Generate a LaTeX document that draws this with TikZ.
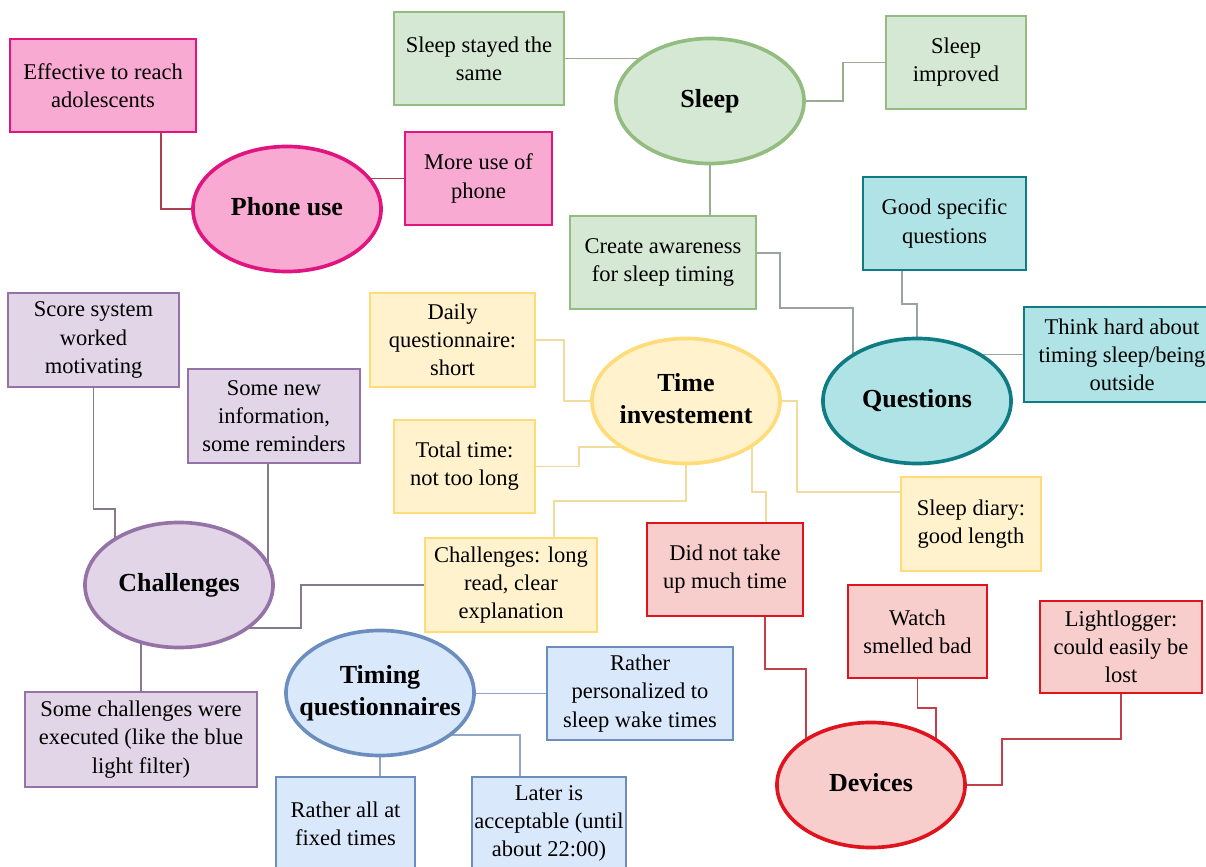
\documentclass[tikz,border=0pt]{standalone}
\usepackage{fontspec}
\setmainfont{Liberation Serif}
\usetikzlibrary{shapes.geometric,backgrounds,calc}

\definecolor{pkfill}{HTML}{F9AAD3}
\definecolor{pkedge}{HTML}{E0157F}
\definecolor{pkwire}{HTML}{A8404F}
\definecolor{grfill}{HTML}{D5E8D4}
\definecolor{gredge}{HTML}{93BC80}
\definecolor{grwire}{HTML}{98AC90}
\definecolor{tqfill}{HTML}{B0E3E6}
\definecolor{tqedge}{HTML}{0F7C84}
\definecolor{tqwire}{HTML}{9AA2A2}
\definecolor{ylfill}{HTML}{FFF2CC}
\definecolor{yledge}{HTML}{FFDC78}
\definecolor{ylwire}{HTML}{F0DC9C}
\definecolor{ppfill}{HTML}{E1D5E7}
\definecolor{ppedge}{HTML}{9673A6}
\definecolor{ppwire}{HTML}{85798E}
\definecolor{rdfill}{HTML}{F8CECC}
\definecolor{rdedge}{HTML}{E0141E}
\definecolor{rdwire}{HTML}{C2404A}
\definecolor{blfill}{HTML}{DAE8FC}
\definecolor{bledge}{HTML}{6C8EBF}
\definecolor{blwire}{HTML}{8FA6C6}

\newcommand{\hubtext}[1]{\makebox[0pt]{\begin{tabular}{@{}c@{}}#1\end{tabular}}}

\tikzset{
  leaf/.style={draw=#1edge, fill=#1fill, rectangle, line width=1.4pt, align=center,
    minimum height=2.325cm, inner sep=2pt, font=\fontsize{16}{20}\selectfont},
  hub/.style={draw=#1edge, fill=#1fill, ellipse, line width=2.6pt, minimum width=4.7cm,
    minimum height=3.125cm, inner sep=0pt, font=\bfseries\fontsize{18.5}{23}\selectfont},
  wire/.style={draw=#1wire, line width=0.8pt},
}

\begin{document}
\begin{tikzpicture}[x=0.025cm, y=-0.025cm]
\useasboundingbox (0,0) rectangle (1206,867);
\clip (0,0) rectangle (1206,867);

% phone use
\node[hub=pk] (phone) at (287,209) {\hubtext{Phone use}};
\node[leaf=pk, minimum width=4.65cm] (eff) at (103,85.5) {Effective to reach\\adolescents};
\node[leaf=pk, minimum width=3.675cm] (more) at (478.5,178.5) {More use of\\phone};

% sleep
\node[hub=gr] (sleep) at (710,101) {\hubtext{Sleep}};
\node[leaf=gr, minimum width=4.25cm] (stayed) at (479,58.5) {Sleep stayed the\\same};
\node[leaf=gr, minimum width=3.5cm] (improved) at (956,62.5) {Sleep\\improved};
\node[leaf=gr, minimum width=4.65cm] (create) at (663,262.5) {Create awareness\\for sleep timing};

% questions
\node[hub=tq] (questions) at (917,401) {\hubtext{Questions}};
\node[leaf=tq, minimum width=4.075cm] (good) at (944.5,223.5) {Good specific\\questions};
\node[leaf=tq, minimum width=4.9cm, minimum height=2.375cm] (think) at (1122,354.5) {Think hard about\\timing sleep/being\\outside};

% time investement
\node[hub=yl] (time) at (686,401) {\hubtext{Time\\investement}};
\node[leaf=yl, minimum width=4.125cm, minimum height=2.35cm] (daily) at (452.5,340) {Daily\\questionnaire:\\short};
\node[leaf=yl, minimum width=3.525cm] (total) at (464.5,466.5) {Total time:\\not too long};
\node[leaf=yl, minimum width=4.3cm, minimum height=2.35cm] (longread) at (511,585) {Challenges: long\\read, clear\\explanation};
\node[leaf=yl, minimum width=3.5cm, minimum height=2.35cm] (diary) at (971,524) {Sleep diary:\\good length};

% challenges
\node[hub=pp] (challenges) at (179,585) {\hubtext{Challenges}};
\node[leaf=pp, minimum width=4.275cm, minimum height=2.35cm] (score) at (93.5,340) {Score system\\worked\\motivating};
\node[leaf=pp, minimum width=4.3cm, minimum height=2.35cm] (somenew) at (274,416) {Some new\\information,\\some reminders};
\node[leaf=pp, minimum width=5.8cm, minimum height=2.375cm] (somechal) at (141,739.5) {Some challenges were\\executed (like the blue\\light filter)};

% timing questionnaires
\node[hub=bl] (timing) at (380,693) {\hubtext{Timing\\questionnaires}};
\node[leaf=bl, minimum width=4.65cm] (personal) at (640,693.5) {Rather\\personalized to\\sleep wake times};
\node[leaf=bl, minimum width=3.475cm] (fixed) at (345.5,823.5) {Rather all at\\fixed times};
\node[leaf=bl, minimum width=3.55cm] (later) at (549,823.5) {Later is\\acceptable (until\\about 22:00)};

% devices
\node[hub=rd] (devices) at (871,785) {\hubtext{Devices}};
\node[leaf=rd, minimum width=3.9cm] (didnot) at (725,569.5) {Did not take\\up much time};
\node[leaf=rd, minimum width=3.475cm] (watch) at (917.5,631.5) {Watch\\smelled bad};
\node[leaf=rd, minimum width=4.05cm, minimum height=2.3cm] (light) at (1121,647) {Lightlogger:\\could easily be\\lost};

\begin{scope}[on background layer]
\draw[wire=pk] ($(eff.south)+(58,0)$) |- (phone);
\draw[wire=pk] (phone |- more) -- (more);
\draw[wire=gr] (stayed) -- (stayed -| sleep);
\draw[wire=gr] (sleep) -| ($(improved.west)+(-42,0)$) -- (improved);
\draw[wire=gr] (sleep) -- (sleep |- create);
\draw[wire=tq] ($(create.east)+(0,-9.5)$) -| ($(create.east)+(23,45.5)$) -| ($(questions)+(-64,0)$);
\draw[wire=tq] ($(good)+(-42.5,0)$) |- ($(questions)+(0,-97)$) -- (questions);
\draw[wire=tq] (think) -- (think -| questions);
\draw[wire=yl] (daily) -| ($(time)+(-122,0)$) -- (time);
\draw[wire=yl] (total) -| ($(time)+(-107,46)$) -- ($(time)+(0,46)$);
\draw[wire=yl] ($(longread)+(43,0)$) |- ($(time)+(0,100)$) -- (time);
\draw[wire=yl] (time) -| ($(diary.west)+(-103,-32)$) -- ($(diary.west)+(0,-32)$);
\draw[wire=yl] ($(time)+(66,0)$) |- ($(didnot)+(41,-77.5)$) -- ($(didnot)+(41,0)$);
\draw[wire=pp] (score) |- ($(challenges)+(-64,-76)$) -- ($(challenges)+(-64,0)$);
\draw[wire=pp] ($(somenew)+(-6,0)$) -- ($(challenges)+(89,0)$);
\draw[wire=pp] ($(challenges)+(0,43)$) -| ($(longread.west)+(-123,0)$) -- (longread);
\draw[wire=pp] ($(challenges)+(-38,0)$) -- (somechal);
\draw[wire=bl] (personal) -- (personal -| timing);
\draw[wire=bl] (timing) -- (timing |- fixed);
\draw[wire=bl] ($(timing)+(0,42)$) -| ($(later)+(-29,0)$);
\draw[wire=rd] ($(didnot)+(40,0)$) |- ($(devices)+(-65,-116)$) -- ($(devices)+(-65,0)$);
\draw[wire=rd] (watch) |- ($(devices)+(65,-77)$) -- ($(devices)+(65,0)$);
\draw[wire=rd] (devices) -| ($(devices)+(131,-46)$) -| (light);
\end{scope}
\end{tikzpicture}
\end{document}
